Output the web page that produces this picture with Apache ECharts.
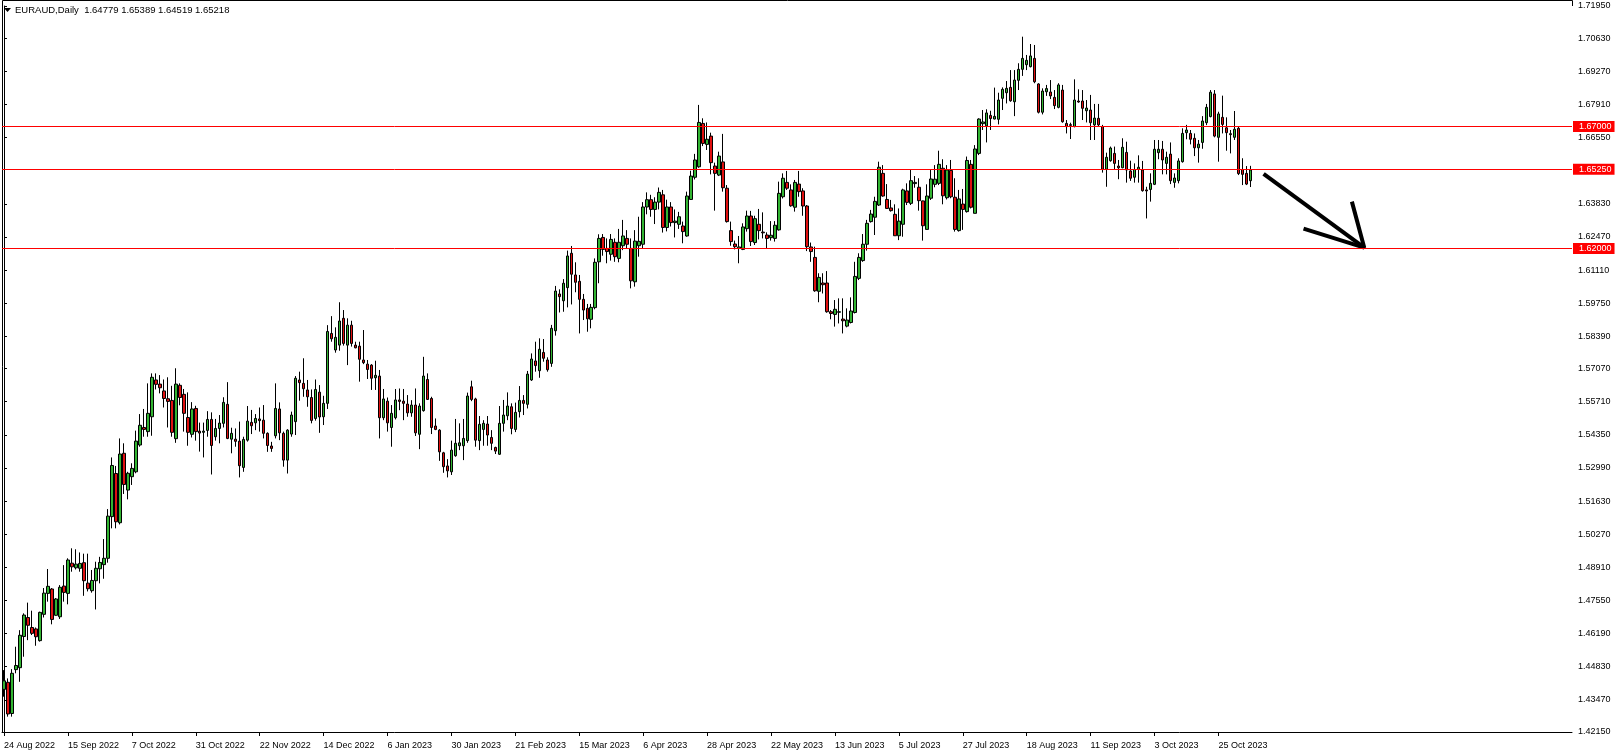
<!DOCTYPE html>
<html><head><meta charset="utf-8">
<script src="https://cdn.jsdelivr.net/npm/echarts@6/dist/echarts.min.js"></script>
<style>html,body{margin:0;padding:0;background:#fff;}#c{width:1618px;height:755px;}</style>
</head><body><div id="c"></div>
<script>
const symbolName = 'EURAUD,Daily';
const lastQuote = '1.64779 1.65389 1.64519 1.65218';
const skippedDays = ['2023-01-02'];
const futureSlots = 80;
const opens = [1.4390,1.4419,1.4291,1.4471,1.4479,1.4607,1.4685,1.4644,1.4638,1.4590,1.4698,1.4784,1.4802,1.4694,1.4688,1.4814,1.4784,1.4908,1.4889,1.4887,
1.4910,1.4826,1.4795,1.4836,1.4885,1.4902,1.4928,1.5099,1.5276,1.5074,1.5359,1.5208,1.5263,1.5283,1.5393,1.5465,1.5448,1.5509,1.5660,1.5643,
1.5615,1.5583,1.5576,1.5419,1.5638,1.5601,1.5506,1.5437,1.5543,1.5450,1.5445,1.5453,1.5498,1.5427,1.5461,1.5482,1.5560,1.5417,1.5417,1.5409,
1.5301,1.5413,1.5486,1.5484,1.5500,1.5495,1.5441,1.5389,1.5431,1.5541,1.5441,1.5331,1.5438,1.5489,1.5660,1.5646,1.5619,1.5588,1.5502,1.5610,
1.5509,1.5564,1.5851,1.5783,1.5803,1.5913,1.5803,1.5885,1.5803,1.5799,1.5742,1.5725,1.5721,1.5669,1.5676,1.5505,1.5573,1.5465,1.5505,1.5578,
1.5573,1.5561,1.5525,1.5557,1.5437,1.5534,1.5662,1.5584,1.5471,1.5454,1.5361,1.5307,1.5283,1.5349,1.5390,1.5390,1.5411,1.5632,1.5582,1.5411,
1.5457,1.5479,1.5424,1.5383,1.5355,1.5482,1.5513,1.5550,1.5457,1.5530,1.5576,1.5560,1.5660,1.5738,1.5698,1.5773,1.5742,1.5728,1.5862,1.6013,
1.5985,1.6039,1.6180,1.6091,1.6065,1.5991,1.5954,1.5909,1.5957,1.6145,1.6245,1.6200,1.6176,1.6225,1.6159,1.6211,1.6241,1.6200,1.6063,1.6211,
1.6217,1.6370,1.6400,1.6360,1.6390,1.6420,1.6286,1.6370,1.6306,1.6299,1.6292,1.6251,1.6401,1.6492,1.6535,1.6713,1.6627,1.6661,1.6538,1.6501,
1.6555,1.6447,1.6273,1.6218,1.6200,1.6196,1.6281,1.6333,1.6224,1.6299,1.6267,1.6255,1.6244,1.6241,1.6276,1.6412,1.6471,1.6440,1.6369,1.6464,
1.6436,1.6374,1.6206,1.6163,1.6024,1.6058,1.6058,1.5940,1.5929,1.5938,1.5910,1.5881,1.5896,1.5937,1.6077,1.6150,1.6217,1.6310,1.6328,1.6378,
1.6508,1.6401,1.6366,1.6340,1.6252,1.6299,1.6436,1.6385,1.6466,1.6451,1.6395,1.6278,1.6406,1.6463,1.6467,1.6529,1.6408,1.6520,1.6410,1.6273,
1.6382,1.6351,1.6545,1.6344,1.6590,1.6712,1.6703,1.6746,1.6731,1.6730,1.6816,1.6839,1.6861,1.6802,1.6890,1.6935,1.6954,1.6946,1.6980,1.6875,
1.6759,1.6843,1.6842,1.6820,1.6779,1.6850,1.6713,1.6708,1.6700,1.6805,1.6805,1.6765,1.6768,1.6707,1.6734,1.6700,1.6525,1.6560,1.6590,1.6538,
1.6531,1.6594,1.6518,1.6492,1.6524,1.6522,1.6440,1.6442,1.6463,1.6593,1.6607,1.6549,1.6587,1.6471,1.6478,1.6556,1.6675,1.6672,1.6652,1.6613,
1.6635,1.6716,1.6741,1.6834,1.6656,1.6738,1.6695,1.6671,1.6656,1.6693,1.6524,1.6508,1.64779];
const highs = [1.4469,1.4435,1.4473,1.4565,1.4633,1.4702,1.4746,1.4713,1.4644,1.4709,1.4806,1.4884,1.4806,1.4765,1.4818,1.4900,1.4928,1.4969,1.4965,1.4952,
1.4947,1.4947,1.4880,1.4914,1.4934,1.5007,1.5130,1.5342,1.5307,1.5420,1.5400,1.5283,1.5318,1.5452,1.5520,1.5541,1.5646,1.5687,1.5687,1.5680,
1.5662,1.5671,1.5636,1.5708,1.5646,1.5623,1.5609,1.5569,1.5554,1.5485,1.5485,1.5532,1.5527,1.5500,1.5516,1.5589,1.5651,1.5464,1.5461,1.5489,
1.5427,1.5553,1.5537,1.5520,1.5547,1.5557,1.5445,1.5406,1.5646,1.5568,1.5448,1.5458,1.5530,1.5676,1.5694,1.5749,1.5660,1.5621,1.5662,1.5639,
1.5595,1.5885,1.5922,1.5876,1.5979,1.5947,1.5913,1.5903,1.5817,1.5817,1.5865,1.5742,1.5725,1.5739,1.5701,1.5623,1.5588,1.5557,1.5623,1.5625,
1.5623,1.5598,1.5577,1.5625,1.5564,1.5755,1.5687,1.5591,1.5502,1.5458,1.5365,1.5335,1.5411,1.5500,1.5482,1.5500,1.5608,1.5657,1.5587,1.5512,
1.5495,1.5512,1.5454,1.5386,1.5553,1.5578,1.5609,1.5564,1.5567,1.5635,1.5598,1.5697,1.5769,1.5817,1.5831,1.5828,1.5753,1.5886,1.6046,1.6032,
1.6074,1.6191,1.6210,1.6143,1.6091,1.6013,1.5972,1.5972,1.6159,1.6258,1.6259,1.6241,1.6259,1.6241,1.6280,1.6317,1.6275,1.6241,1.6275,1.6330,
1.6390,1.6430,1.6420,1.6410,1.6450,1.6440,1.6400,1.6390,1.6360,1.6350,1.6310,1.6433,1.6519,1.6588,1.6789,1.6734,1.6717,1.6675,1.6552,1.6597,
1.6670,1.6460,1.6310,1.6232,1.6251,1.6303,1.6355,1.6354,1.6334,1.6362,1.6348,1.6266,1.6312,1.6312,1.6474,1.6508,1.6518,1.6463,1.6481,1.6518,
1.6447,1.6378,1.6224,1.6207,1.6098,1.6098,1.6107,1.5947,1.5988,1.5995,1.5995,1.5954,1.5999,1.6145,1.6180,1.6259,1.6317,1.6358,1.6412,1.6556,
1.6542,1.6464,1.6399,1.6381,1.6364,1.6445,1.6467,1.6524,1.6497,1.6488,1.6396,1.6463,1.6524,1.6542,1.6601,1.6566,1.6542,1.6563,1.6488,1.6440,
1.6444,1.6577,1.6563,1.6624,1.6734,1.6768,1.6771,1.6765,1.6860,1.6839,1.6861,1.6887,1.6932,1.6932,1.6960,1.7069,1.6994,1.7039,1.7035,1.6878,
1.6857,1.6871,1.6891,1.6850,1.6878,1.6871,1.6727,1.6716,1.6894,1.6853,1.6850,1.6809,1.6830,1.6793,1.6793,1.6707,1.6593,1.6618,1.6618,1.6563,
1.6652,1.6638,1.6560,1.6549,1.6582,1.6559,1.6453,1.6508,1.6645,1.6645,1.6641,1.6597,1.6635,1.6508,1.6570,1.6693,1.6707,1.6686,1.6672,1.6645,
1.6743,1.6793,1.6850,1.6850,1.6761,1.6827,1.6738,1.6686,1.6764,1.6700,1.6570,1.6538,1.65389];
const lows = [1.4360,1.4278,1.4278,1.4456,1.4421,1.4524,1.4592,1.4613,1.4569,1.4586,1.4685,1.4750,1.4657,1.4692,1.4679,1.4750,1.4739,1.4873,1.4882,1.4873,
1.4774,1.4792,1.4787,1.4718,1.4825,1.4844,1.4910,1.5051,1.5051,1.5067,1.5192,1.5170,1.5229,1.5277,1.5386,1.5427,1.5427,1.5431,1.5621,1.5605,
1.5547,1.5465,1.5427,1.5402,1.5556,1.5448,1.5390,1.5424,1.5411,1.5366,1.5342,1.5427,1.5272,1.5411,1.5400,1.5465,1.5417,1.5359,1.5386,1.5260,
1.5283,1.5407,1.5438,1.5454,1.5448,1.5420,1.5365,1.5365,1.5420,1.5413,1.5304,1.5276,1.5427,1.5434,1.5575,1.5591,1.5550,1.5482,1.5493,1.5443,
1.5475,1.5541,1.5817,1.5772,1.5780,1.5801,1.5721,1.5797,1.5790,1.5653,1.5725,1.5664,1.5619,1.5619,1.5420,1.5495,1.5448,1.5386,1.5498,1.5536,
1.5495,1.5509,1.5509,1.5430,1.5376,1.5530,1.5578,1.5438,1.5454,1.5328,1.5279,1.5260,1.5270,1.5345,1.5372,1.5331,1.5402,1.5573,1.5386,1.5372,
1.5390,1.5390,1.5372,1.5356,1.5352,1.5448,1.5495,1.5437,1.5446,1.5506,1.5516,1.5543,1.5656,1.5694,1.5669,1.5735,1.5694,1.5714,1.5842,1.5937,
1.5940,1.5958,1.5970,1.6020,1.5851,1.5906,1.5858,1.5872,1.5950,1.6057,1.6170,1.6139,1.6150,1.6145,1.6143,1.6193,1.6200,1.6036,1.6043,1.6166,
1.6200,1.6340,1.6330,1.6300,1.6360,1.6265,1.6270,1.6290,1.6245,1.6280,1.6221,1.6248,1.6399,1.6483,1.6531,1.6620,1.6604,1.6504,1.6355,1.6497,
1.6433,1.6306,1.6211,1.6196,1.6139,1.6193,1.6269,1.6210,1.6214,1.6237,1.6241,1.6200,1.6232,1.6228,1.6273,1.6405,1.6440,1.6371,1.6351,1.6412,
1.6334,1.6189,1.6145,1.6022,1.5979,1.6015,1.5936,1.5909,1.5879,1.5892,1.5851,1.5876,1.5892,1.5933,1.6070,1.6145,1.6191,1.6306,1.6255,1.6374,
1.6412,1.6362,1.6351,1.6252,1.6234,1.6248,1.6378,1.6378,1.6449,1.6355,1.6232,1.6278,1.6399,1.6451,1.6460,1.6381,1.6401,1.6406,1.6269,1.6269,
1.6276,1.6347,1.6364,1.6344,1.6583,1.6686,1.6635,1.6686,1.6730,1.6709,1.6768,1.6795,1.6802,1.6743,1.6850,1.6908,1.6932,1.6943,1.6878,1.6754,
1.6750,1.6826,1.6813,1.6772,1.6775,1.6716,1.6672,1.6649,1.6697,1.6798,1.6727,1.6717,1.6645,1.6645,1.6700,1.6511,1.6453,1.6556,1.6522,1.6484,
1.6529,1.6470,1.6477,1.6470,1.6470,1.6433,1.6323,1.6392,1.6460,1.6566,1.6504,1.6504,1.6464,1.6449,1.6467,1.6552,1.6648,1.6627,1.6579,1.6552,
1.6609,1.6706,1.6738,1.6656,1.6556,1.6672,1.6601,1.6590,1.6645,1.6501,1.6460,1.6460,1.64519];
const closes = [1.4425,1.4289,1.4456,1.4488,1.4612,1.4695,1.4653,1.4620,1.4606,1.4706,1.4785,1.4813,1.4677,1.4761,1.4809,1.4788,1.4921,1.4893,1.4904,1.4907,
1.4836,1.4803,1.4837,1.4887,1.4911,1.4928,1.5101,1.5309,1.5078,1.5356,1.5231,1.5277,1.5297,1.5409,1.5474,1.5457,1.5523,1.5671,1.5642,1.5628,
1.5584,1.5572,1.5445,1.5643,1.5588,1.5523,1.5445,1.5541,1.5448,1.5442,1.5450,1.5498,1.5391,1.5461,1.5483,1.5568,1.5420,1.5441,1.5408,1.5308,
1.5416,1.5491,1.5472,1.5502,1.5493,1.5441,1.5391,1.5379,1.5543,1.5443,1.5331,1.5454,1.5516,1.5667,1.5649,1.5624,1.5591,1.5494,1.5621,1.5508,
1.5564,1.5859,1.5829,1.5835,1.5902,1.5810,1.5885,1.5810,1.5792,1.5745,1.5731,1.5703,1.5667,1.5679,1.5505,1.5582,1.5484,1.5523,1.5578,1.5572,
1.5564,1.5525,1.5557,1.5443,1.5553,1.5676,1.5580,1.5465,1.5457,1.5365,1.5304,1.5287,1.5372,1.5400,1.5402,1.5420,1.5594,1.5580,1.5413,1.5478,
1.5482,1.5434,1.5400,1.5368,1.5482,1.5516,1.5553,1.5461,1.5527,1.5576,1.5564,1.5684,1.5746,1.5719,1.5786,1.5749,1.5702,1.5872,1.6025,1.6002,
1.6057,1.6169,1.6094,1.6061,1.5991,1.5947,1.5911,1.5958,1.6143,1.6241,1.6196,1.6187,1.6237,1.6166,1.6225,1.6251,1.6217,1.6067,1.6230,1.6229,
1.6370,1.6400,1.6360,1.6390,1.6430,1.6286,1.6370,1.6306,1.6312,1.6330,1.6269,1.6415,1.6497,1.6563,1.6717,1.6631,1.6648,1.6552,1.6508,1.6579,
1.6449,1.6310,1.6228,1.6207,1.6206,1.6288,1.6333,1.6228,1.6322,1.6273,1.6264,1.6241,1.6254,1.6295,1.6426,1.6488,1.6447,1.6375,1.6471,1.6433,
1.6374,1.6207,1.6187,1.6026,1.6081,1.6051,1.5940,1.5933,1.5950,1.5940,1.5903,1.5906,1.5943,1.6085,1.6163,1.6217,1.6303,1.6341,1.6393,1.6533,
1.6415,1.6364,1.6355,1.6252,1.6312,1.6440,1.6389,1.6478,1.6471,1.6396,1.6293,1.6415,1.6485,1.6484,1.6545,1.6416,1.6522,1.6412,1.6278,1.6403,
1.6360,1.6561,1.6369,1.6608,1.6731,1.6719,1.6756,1.6733,1.6742,1.6809,1.6853,1.6857,1.6806,1.6891,1.6935,1.6980,1.6972,1.6990,1.6884,1.6759,
1.6846,1.6856,1.6826,1.6786,1.6871,1.6720,1.6700,1.6705,1.6809,1.6801,1.6775,1.6776,1.6716,1.6735,1.6707,1.6525,1.6574,1.6612,1.6549,1.6531,
1.6615,1.6522,1.6488,1.6524,1.6533,1.6437,1.6436,1.6467,1.6607,1.6607,1.6563,1.6574,1.6478,1.6489,1.6559,1.6672,1.6686,1.6648,1.6613,1.6628,
1.6723,1.6779,1.6841,1.6661,1.6752,1.6709,1.6675,1.6667,1.6689,1.6507,1.6504,1.6464,1.65218];
const levels = [1.67000, 1.65250, 1.62000];
const bidPrice = 1.65218;
const priceTicks = [1.42150,1.43470,1.44830,1.46190,1.47550,1.48910,1.50270,1.51630,1.52990,1.54350,1.55710,1.57070,1.58390,1.59750,1.61110,1.62470,1.63830,1.66550,1.67910,1.69270,1.70630,1.71950];
const arrowShaft = [[315.3, 1.6506], [340.5, 1.6203]];
const arrowHead = [[337.4, 1.6392], [340.5, 1.6203], [325.3, 1.6281]];

const monthNames = ['Jan','Feb','Mar','Apr','May','Jun','Jul','Aug','Sep','Oct','Nov','Dec'];
function tradingDays(n) {
  const d = new Date(Date.UTC(2022, 7, 24)); const out = [];
  while (out.length < n) {
    const w = d.getUTCDay(); const iso = d.toISOString().slice(0, 10);
    if (w !== 0 && w !== 6 && skippedDays.indexOf(iso) < 0)
      out.push(d.getUTCDate() + ' ' + monthNames[d.getUTCMonth()] + ' ' + d.getUTCFullYear());
    d.setUTCDate(d.getUTCDate() + 1);
  }
  return out;
}
const nBars = opens.length;
const categories = tradingDays(nBars);
for (let k = 0; k < futureSlots; k++) categories.push('f' + k);
const nCat = categories.length;
const candles = opens.map((o, i) => [o, closes[i], lows[i], highs[i]]);
const showIdx = (i) => i % 16 === 0 && i < nBars;
const FONT = '"Liberation Sans", Arial, sans-serif';

const chart = echarts.init(document.getElementById('c'), null, {renderer: 'canvas'});
chart.setOption({
  animation: false,
  backgroundColor: '#ffffff',
  grid: {left: 2, right: 46, top: 6, bottom: 23, show: false},
  xAxis: [{
    type: 'category', data: categories, boundaryGap: true,
    axisLine: {show: true, lineStyle: {color: '#000', width: 1}},
    axisTick: {show: true, interval: showIdx, alignWithLabel: true, length: 4, lineStyle: {color: '#000'}},
    axisLabel: {interval: showIdx, align: 'left', margin: 9, fontSize: 9, color: '#000', fontFamily: FONT},
    splitLine: {show: false}
  }, {
    type: 'value', min: -0.5, max: nCat - 0.5, show: false
  }],
  yAxis: {
    type: 'value', position: 'right', min: 1.4215, max: 1.7195, scale: true,
    splitLine: {show: false},
    axisLine: {show: true, lineStyle: {color: '#000', width: 1}},
    axisTick: {show: true, length: 3, customValues: priceTicks, lineStyle: {color: '#000'}},
    axisLabel: {customValues: priceTicks, formatter: (v) => v.toFixed(5), margin: 6, fontSize: 9, color: '#000', fontFamily: FONT}
  },
  graphic: [
    {type: 'polyline', shape: {points: [[2.5, 732], [2.5, 0.5], [1572.5, 0.5], [1572.5, 6]]}, style: {stroke: '#000', lineWidth: 1, fill: null}, silent: true},
    {type: 'polygon', shape: {points: [[4, 8], [11, 8], [7.5, 12]]}, style: {fill: '#000'}},
    {type: 'text', left: 15, top: 5, style: {text: symbolName + '  ' + lastQuote, fontSize: 9.5, fill: '#000', fontFamily: FONT}}
  ],
  series: [{
    type: 'candlestick', data: candles, barWidth: 3,
    itemStyle: {color: '#32b432', color0: '#e01010', borderColor: '#000', borderColor0: '#000', borderWidth: 1},
    markLine: {
      symbol: ['none', 'none'], silent: true, animation: false, precision: 5,
      lineStyle: {color: '#ff0000', width: 1, type: 'solid'},
      label: {position: 'end', distance: 1, formatter: (p) => Number(p.value).toFixed(5), backgroundColor: '#ff0000', color: '#fff', fontSize: 9, padding: [1, 3, 1, 6], fontFamily: FONT},
      data: [{yAxis: bidPrice, lineStyle: {opacity: 0}, label: {backgroundColor: '#000'}}].concat(levels.map(v => ({yAxis: v})))
    }
  }, {
    type: 'line', xAxisIndex: 1, data: arrowShaft, symbol: 'none', silent: true,
    lineStyle: {color: '#000', width: 4}
  }, {
    type: 'line', xAxisIndex: 1, data: arrowHead, symbol: 'none', silent: true,
    lineStyle: {color: '#000', width: 4}
  }]
});
</script></body></html>
